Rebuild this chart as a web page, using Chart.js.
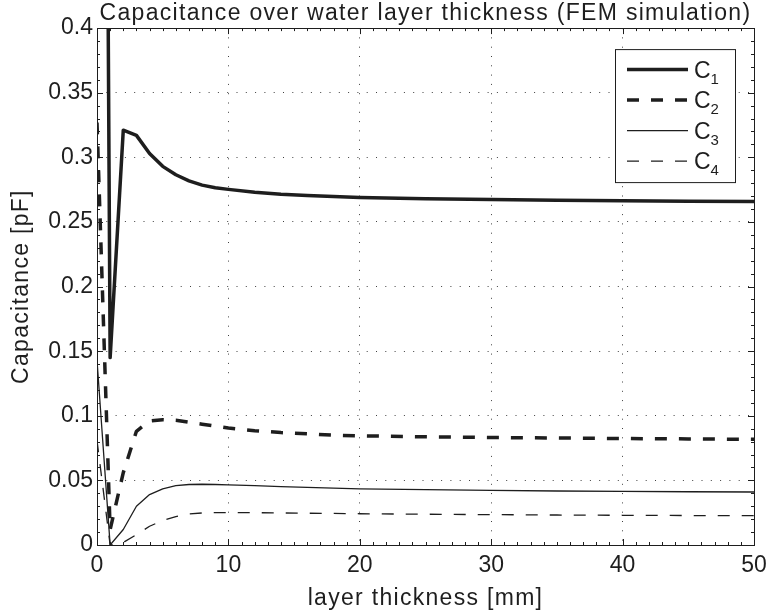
<!DOCTYPE html>
<html>
<head>
<meta charset="utf-8">
<title>Capacitance over water layer thickness</title>
<script src="https://cdn.jsdelivr.net/npm/chart.js@4.4.1/dist/chart.umd.min.js"></script>
<style>
  html, body { margin: 0; padding: 0; background: #fff; }
  canvas { display: block; }
</style>
</head>
<body>
<canvas id="capChart" width="769" height="616"></canvas>
<script>
// layer thickness in mm
const thickness = [0, 1, 2, 3, 4, 5, 6, 7, 8, 9, 10, 12, 14, 16, 18, 20, 25, 30, 35, 40, 45, 50];

// capacitance in pF
const c1 = [1.9, 0.145, 0.321, 0.317, 0.303, 0.293, 0.2865, 0.2818, 0.2785, 0.2765, 0.2752,
  0.273, 0.2715, 0.2705, 0.2697, 0.269, 0.268, 0.2673, 0.2668, 0.2664, 0.2661, 0.2659];
const c2 = [0.327, 0.012, 0.056, 0.088, 0.096, 0.097, 0.0965, 0.095, 0.0935, 0.092, 0.0905,
  0.0885, 0.087, 0.086, 0.085, 0.0845, 0.0837, 0.0832, 0.0828, 0.0824, 0.0821, 0.0818];
const c3 = [0.143, 0, 0.012, 0.03, 0.039, 0.0435, 0.046, 0.0468, 0.047, 0.0468, 0.0465,
  0.046, 0.0452, 0.0446, 0.044, 0.0435, 0.0428, 0.0422, 0.0418, 0.0415, 0.0412, 0.041];
const c4 = [0.081, 0, 0.002, 0.008, 0.0145, 0.019, 0.022, 0.024, 0.0248, 0.025, 0.025,
  0.025, 0.0248, 0.0246, 0.0244, 0.0242, 0.0238, 0.0235, 0.0232, 0.023, 0.0228, 0.0227];

const seriesNames = ["C1", "C2", "C3", "C4"];

const xTicks = [0, 10, 20, 30, 40, 50];
const yTicks = [0, 0.05, 0.1, 0.15, 0.2, 0.25, 0.3, 0.35, 0.4];

const FONT = "'Liberation Sans', Arial, Helvetica, sans-serif";
const INK = "#1e1e1e";

function toPoints(ys) {
  return thickness.map((x, i) => ({ x: x, y: ys[i] }));
}

// matlab style: full box, inward ticks incl. minor ones
const axesBox = {
  id: "axesBox",
  afterDatasetsDraw(chart) {
    const { ctx, chartArea: a } = chart;
    const xs = chart.scales.x;
    const ys = chart.scales.y;
    ctx.save();
    ctx.strokeStyle = INK;
    ctx.lineWidth = 1;
    ctx.beginPath();
    for (let v = 0; v <= 50; v++) {
      const px = Math.round(xs.getPixelForValue(v)) + 0.5;
      const len = v % 10 === 0 ? 6 : 3;
      ctx.moveTo(px, a.bottom);
      ctx.lineTo(px, a.bottom - len);
      ctx.moveTo(px, a.top);
      ctx.lineTo(px, a.top + len);
    }
    for (let i = 0; i <= 40; i++) {
      const py = Math.round(ys.getPixelForValue(i / 100)) + 0.5;
      const len = i % 5 === 0 ? 6 : 3;
      ctx.moveTo(a.left, py);
      ctx.lineTo(a.left + len, py);
      ctx.moveTo(a.right, py);
      ctx.lineTo(a.right - len, py);
    }
    ctx.stroke();
    ctx.strokeRect(Math.round(a.left) + 0.5, Math.round(a.top) + 0.5,
      Math.round(a.width), Math.round(a.height));
    ctx.restore();
  },
};

// legend inside the top right corner, with subscripts
const insideLegend = {
  id: "insideLegend",
  afterDraw(chart) {
    const { ctx, chartArea: a } = chart;
    const right = a.right - 19;
    const top = a.top + 21;
    const w = 120;
    const h = 133;
    const left = right - w;
    ctx.save();
    ctx.letterSpacing = "0px";
    ctx.fillStyle = "#fff";
    ctx.fillRect(left, top, w, h);
    ctx.strokeStyle = INK;
    ctx.lineWidth = 1;
    ctx.strokeRect(left + 0.5, top + 0.5, w, h);

    chart.data.datasets.forEach((ds, i) => {
      const y = top + 20.5 + i * 30.5;
      ctx.beginPath();
      ctx.lineWidth = ds.borderWidth;
      ctx.setLineDash(ds.borderDash || []);
      ctx.strokeStyle = ds.borderColor;
      ctx.moveTo(left + 12, y);
      ctx.lineTo(left + 73, y);
      ctx.stroke();
      ctx.setLineDash([]);

      ctx.fillStyle = INK;
      ctx.textBaseline = "alphabetic";
      ctx.textAlign = "left";
      ctx.font = "23px " + FONT;
      const base = ds.label.slice(0, 1);
      ctx.fillText(base, left + 79, y + 8.3);
      const bw = ctx.measureText(base).width;
      ctx.font = "15px " + FONT;
      ctx.fillText(ds.label.slice(1), left + 79 + bw, y + 14.3);
    });
    ctx.restore();
  },
};

// the figure text is a bit wider spaced than plain Arial
const textSpacing = {
  id: "textSpacing",
  beforeDraw(chart) {
    chart.ctx.letterSpacing = "1.3px";
  },
  beforeDatasetsDraw(chart) {
    chart.ctx.letterSpacing = "0px";
  },
};

const styles = [
  { borderWidth: 3.5, borderDash: [] },
  { borderWidth: 3.5, borderDash: [12, 12] },
  { borderWidth: 1.3, borderDash: [] },
  { borderWidth: 1.3, borderDash: [12, 12] },
];

const ctx = document.getElementById("capChart").getContext("2d");

const capChart = new Chart(ctx, {
  type: "line",
  data: {
    datasets: [c1, c2, c3, c4].map((series, i) => ({
      label: seriesNames[i],
      data: toPoints(series),
      borderColor: INK,
      backgroundColor: INK,
      borderWidth: styles[i].borderWidth,
      borderDash: styles[i].borderDash,
      borderCapStyle: "butt",
      borderJoinStyle: "round",
      pointRadius: 0,
      tension: 0,
      fill: false,
    })),
  },
  options: {
    responsive: false,
    animation: false,
    layout: {
      padding: { left: 0, right: 15, top: 0, bottom: 0 },
    },
    plugins: {
      legend: { display: false },
      tooltip: { enabled: false },
      title: {
        display: true,
        text: "Capacitance over water layer thickness (FEM simulation)",
        fullSize: false,
        color: INK,
        font: { family: FONT, size: 23, weight: "normal" },
        padding: { top: 0, bottom: 0.5 },
      },
    },
    scales: {
      x: {
        type: "linear",
        min: 0,
        max: 50,
        afterFit: (scale) => {
          scale.height = 71;
          scale.paddingLeft = 0;
          scale.paddingRight = 0;
        },
        afterBuildTicks: (scale) => { scale.ticks = xTicks.map((v) => ({ value: v })); },
        grid: {
          color: "rgba(0,0,0,0.75)",
          lineWidth: 1,
          drawTicks: false,
        },
        border: { display: false, dash: [1, 8.3] },
        ticks: {
          z: 1,
          padding: 7,
          color: INK,
          font: { family: FONT, size: 23 },
          maxRotation: 0,
          autoSkip: false,
        },
        title: {
          display: true,
          text: "layer thickness [mm]",
          color: INK,
          font: { family: FONT, size: 23 },
          padding: { top: 0, bottom: 4 },
        },
      },
      y: {
        type: "linear",
        min: 0,
        max: 0.4,
        afterFit: (scale) => { scale.width = 97; },
        afterBuildTicks: (scale) => { scale.ticks = yTicks.map((v) => ({ value: v })); },
        grid: {
          color: "rgba(0,0,0,0.75)",
          lineWidth: 1,
          drawTicks: false,
        },
        border: { display: false, dash: [1, 8.3] },
        ticks: {
          z: 1,
          padding: 4,
          color: INK,
          font: { family: FONT, size: 23 },
          autoSkip: false,
          callback: (value) => String(Number(value.toFixed(2))),
        },
        title: {
          display: true,
          text: "Capacitance [pF]",
          color: INK,
          font: { family: FONT, size: 23 },
          padding: { top: 8, bottom: 0 },
        },
      },
    },
  },
  plugins: [textSpacing, axesBox, insideLegend],
});
</script>
</body>
</html>
